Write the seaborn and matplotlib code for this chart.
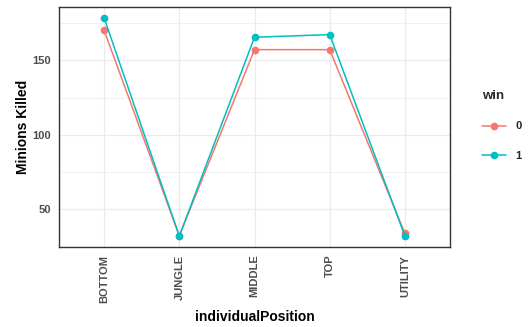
import matplotlib
matplotlib.use("Agg")
import matplotlib.pyplot as plt
import seaborn as sns
import pandas as pd
from matplotlib.lines import Line2D

sns.set_theme(style="whitegrid")
plt.rcParams['font.family'] = ['Liberation Sans', 'DejaVu Sans']

# data
positions = ['BOTTOM', 'JUNGLE', 'MIDDLE', 'TOP', 'UTILITY']
minions_win0 = [170.2, 32.3, 157.2, 157.2, 33.9]
minions_win1 = [178.5, 32.1, 165.5, 167.3, 32.2]
win_levels = ['0', '1']
colors = ['#F8766D', '#00BFC4']

df = pd.DataFrame({
    'individualPosition': positions * 2,
    'Minions Killed': minions_win0 + minions_win1,
    'win': [win_levels[0]] * 5 + [win_levels[1]] * 5,
})

fig = plt.figure(figsize=(5.28, 3.27), dpi=100)
ax = fig.add_axes([59 / 528, 1 - 247 / 327, 391 / 528, 240 / 327])

sns.lineplot(data=df, x='individualPosition', y='Minions Killed', hue='win',
             palette=dict(zip(win_levels, colors)), marker='o', markersize=5.5,
             markeredgewidth=0, linewidth=1.1, sort=False, legend=False, ax=ax)

ax.set_xlim(-0.6, 4.6)
ax.set_ylim(24.8, 185.8)
ax.set_yticks([50, 100, 150])
ax.set_yticks([75, 125, 175], minor=True)
ax.set_facecolor('white')
ax.grid(True, which='major', color='#EBEBEB', linewidth=0.9)
ax.grid(True, which='minor', color='#F0F0F0', linewidth=0.7)
ax.set_axisbelow(True)
for s in ax.spines.values():
    s.set_color('#333333')
    s.set_linewidth(1.0)

ax.tick_params(axis='both', which='major', length=3.5, width=0.9, color='#333333',
               labelsize=8, labelcolor='#4D4D4D', pad=2)
ax.tick_params(axis='both', which='minor', length=0)
plt.setp(ax.get_xticklabels(), rotation=90, fontweight='bold')
plt.setp(ax.get_yticklabels(), fontweight='bold')
ax.set_xlabel('individualPosition', fontsize=10, fontweight='bold', color='black', labelpad=5)
ax.set_ylabel('Minions Killed', fontsize=10, fontweight='bold', color='black', labelpad=2)

handles = [Line2D([], [], color=c, marker='o', markersize=5.5, markeredgewidth=0, linewidth=1.1)
           for c in colors]
leg = fig.legend(handles, win_levels, title='win', loc='upper left',
                 bbox_to_anchor=(472 / 528, 1 - 80 / 327), frameon=False,
                 prop={'size': 8, 'weight': 'bold'}, handlelength=2.2,
                 labelspacing=1.75, alignment='left')
leg.get_title().set_fontweight('bold')
leg.get_title().set_fontsize(9.5)

fig.savefig('out.png', dpi=100)
